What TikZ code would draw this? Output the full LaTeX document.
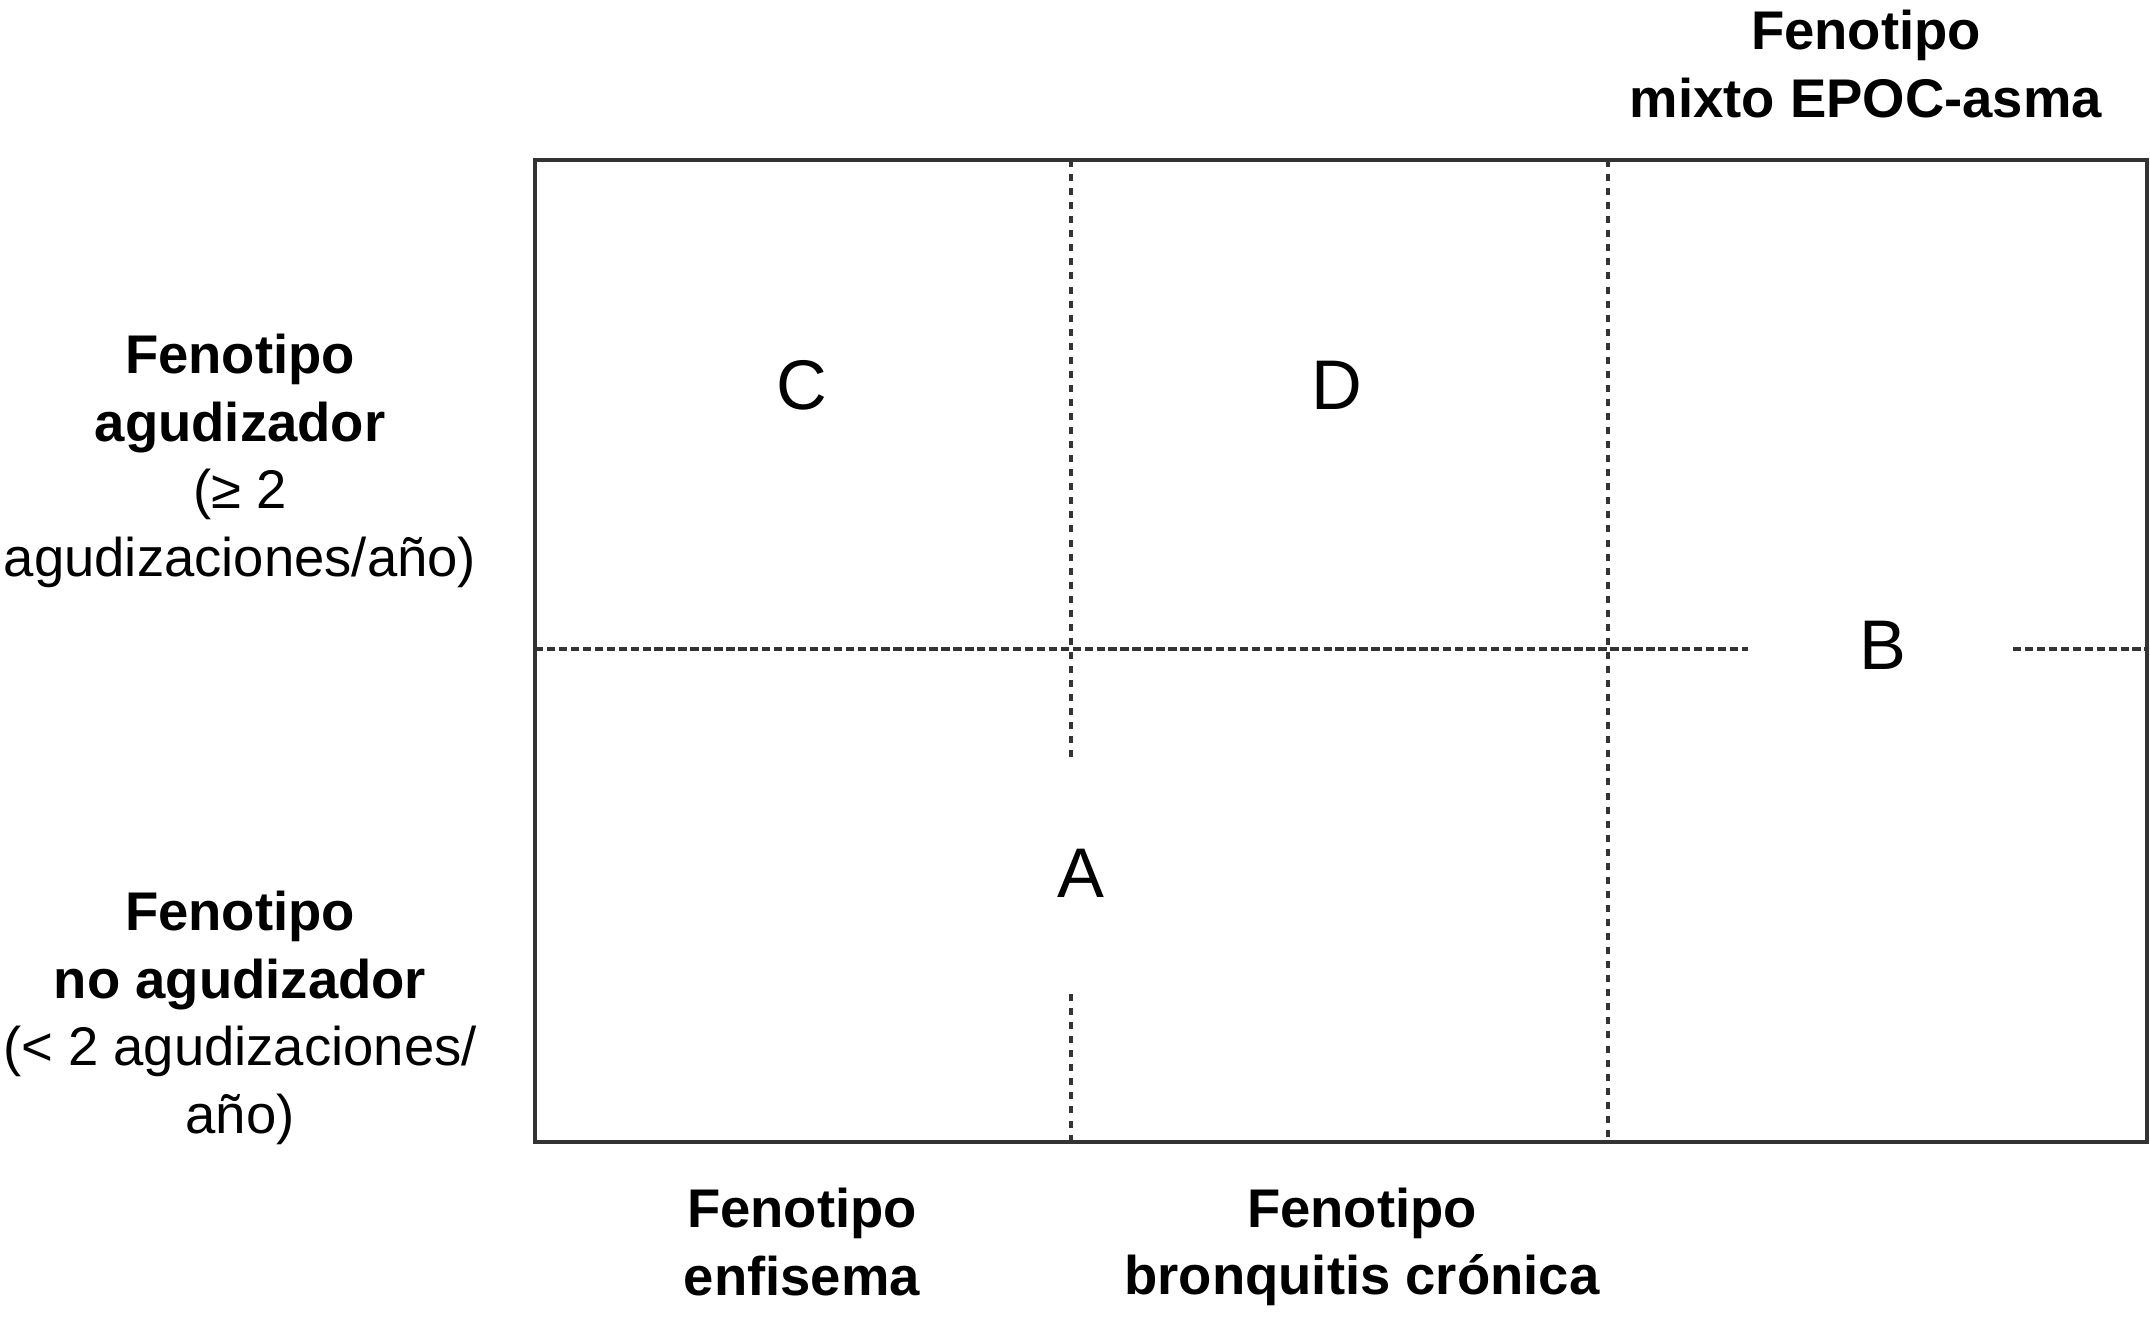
\documentclass[tikz,border=0pt]{standalone}
\usepackage{fontspec}
\setmainfont{Liberation Sans}
\begin{document}
\begin{tikzpicture}[x=0.02cm,y=-0.02cm,
  lbl/.style={inner sep=0pt,align=center,font=\fontsize{31}{38.5}\selectfont},
  cell/.style={inner sep=0pt,font=\fontsize{40}{48}\selectfont},
  frame/.style={draw=black!80,line width=2.4pt},
  vdash/.style={draw=black!80,line width=1.8pt,dash pattern=on 4pt off 4pt},
  hdash/.style={draw=black!80,line width=1.8pt,dash pattern=on 4.8pt off 2pt}]
\useasboundingbox (0,0) rectangle (2150,1320);
% frame corners
\coordinate (tl) at (535,160);
\coordinate (br) at (2147,1142);
% divider end points
\coordinate (v1t) at (1071,160);
\coordinate (v1a) at (1071,764);
\coordinate (v1b) at (1071,994);
\coordinate (v1d) at (1071,1142);
\coordinate (v2t) at (1608,160);
\coordinate (v2d) at (1608,1142);
\coordinate (hl) at (535,649);
\coordinate (ha) at (1748,649);
\coordinate (hb) at (2013,649);
\coordinate (hr) at (2147,649);
% dividers
\draw[vdash] (v1t) -- (v1a);
\draw[vdash] (v1b) -- (v1d);
\draw[vdash] (v2t) -- (v2d);
\draw[hdash] (hl) -- (ha);
\draw[hdash] (hb) -- (hr);
\draw[frame] (tl) rectangle (br);
% cell letters
\node[cell] (C) at (802,385) {C};
\node[cell] (D) at (1337,385) {D};
\node[cell] (B) at (1883,645) {B};
\node[cell] (A) at (1081,873) {A};
% labels
\node[lbl] (mixto) at (1866,64) {\textbf{Fenotipo}\\\textbf{mixto EPOC-asma}};
\node[lbl] (agud) at (240,461) {\textbf{Fenotipo}\\\textbf{agudizador}\\(≥ 2\\agudizaciones/año)};
\node[lbl] (noagud) at (240,1018) {\textbf{Fenotipo}\\\textbf{no agudizador}\\(< 2 agudizaciones/\\año)};
\node[lbl] (enf) at (802,1242) {\textbf{Fenotipo}\\\textbf{enfisema}};
\node[lbl] (bron) at (1362,1247) {\textbf{Fenotipo}\\\textbf{bronquitis crónica}};
\end{tikzpicture}
\end{document}
